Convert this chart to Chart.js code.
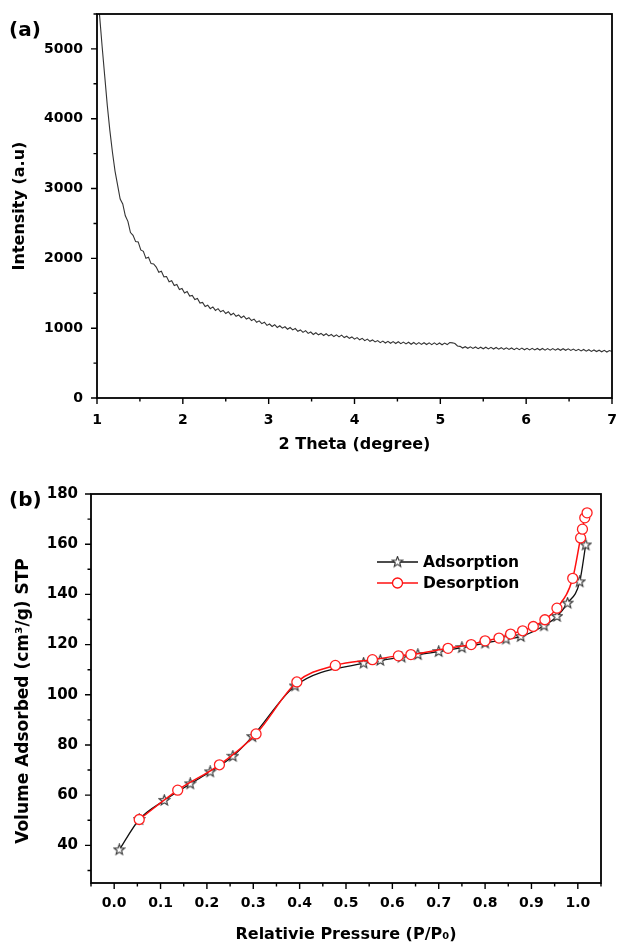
<!DOCTYPE html>
<html>
<head>
<meta charset="utf-8">
<script src="https://cdn.jsdelivr.net/npm/chart.js@4.4.1/dist/chart.umd.min.js"></script>
<style>
html, body { margin: 0; padding: 0; background: #fff; }
#wrap { position: relative; width: 618px; height: 945px; }
#chartA { position: absolute; left: 0; top: 0; }
#chartB { position: absolute; left: 0; top: 470px; }
</style>
</head>
<body>
<div id="wrap">
  <canvas id="chartA" width="618" height="470"></canvas>
  <canvas id="chartB" width="618" height="475"></canvas>
</div>
<script>
// (a) XRD pattern, sampled every 0.03 degree from 1.00 to 7.00
var thetaStart = 1.0;
var thetaStep = 0.03;
var xrdIntensity = [
    6000, 5480, 5030, 4610, 4190, 3830, 3520, 3250, 3050, 2850,
    2780, 2610, 2530, 2370, 2330, 2240, 2235, 2120, 2100, 2000,
    2015, 1925, 1920, 1875, 1800, 1815, 1735, 1740, 1665, 1680,
    1610, 1625, 1555, 1570, 1505, 1525, 1460, 1470, 1410, 1425,
    1360, 1370, 1310, 1330, 1280, 1305, 1255, 1280, 1235, 1255,
    1210, 1235, 1190, 1215, 1170, 1190, 1150, 1175, 1130, 1150,
    1110, 1130, 1085, 1105, 1065, 1085, 1040, 1060, 1025, 1050,
    1010, 1035, 1000, 1020, 985, 1010, 975, 995, 955, 975,
    940, 965, 925, 945, 910, 935, 905, 925, 895, 920,
    890, 910, 880, 905, 875, 900, 865, 885, 855, 875,
    843, 865, 833, 855, 822, 843, 812, 832, 803, 822,
    793, 815, 788, 812, 784, 808, 781, 806, 778, 800,
    775, 798, 770, 795, 768, 793, 767, 792, 766, 790,
    765, 789, 764, 788, 763, 787, 765, 795, 790, 780,
    745, 740, 715, 735, 712, 733, 710, 731, 707, 728,
    705, 727, 703, 725, 701, 723, 699, 721, 697, 719,
    695, 717, 693, 715, 692, 714, 690, 712, 689, 711,
    688, 710, 687, 709, 686, 708, 686, 707, 685, 706,
    684, 706, 683, 705, 681, 701, 678, 698, 675, 695,
    671, 691, 668, 688, 665, 685, 662, 683, 659, 680,
    666
];
var xrdXTicks = [1, 2, 3, 4, 5, 6, 7];
var xrdYTicks = [0, 1000, 2000, 3000, 4000, 5000];

// (b) N2 isotherm
var pressureAds = [0.011, 0.054, 0.108, 0.164, 0.207, 0.256, 0.298, 0.390, 0.538, 0.574, 0.620, 0.655, 0.700, 0.750, 0.800, 0.845, 0.877, 0.927, 0.955, 0.978, 1.004, 1.017];
var volumeAds   = [38.2, 50.3, 57.9, 64.5, 69.3, 75.5, 83.3, 103.5, 112.6, 113.7, 115.0, 116.0, 117.2, 118.8, 120.6, 122.2, 123.2, 127.5, 131.2, 136.5, 145.0, 159.7];
var pressureDes = [0.054, 0.137, 0.227, 0.306, 0.394, 0.477, 0.557, 0.613, 0.640, 0.720, 0.770, 0.800, 0.830, 0.855, 0.881, 0.904, 0.929, 0.955, 0.989, 1.006, 1.010, 1.015, 1.020];
var volumeDes   = [50.3, 62.0, 72.1, 84.4, 105.1, 111.7, 114.0, 115.5, 116.0, 118.5, 120.0, 121.5, 122.6, 124.2, 125.5, 127.2, 129.9, 134.5, 146.4, 162.5, 166.0, 170.5, 172.5];
var isoXTicks = [0.0, 0.1, 0.2, 0.3, 0.4, 0.5, 0.6, 0.7, 0.8, 0.9, 1.0];
var isoYTicks = [40, 60, 80, 100, 120, 140, 160, 180];

var BOLD = '"DejaVu Sans", "Liberation Sans", Arial, sans-serif';

function range(a, b, step) {
    var out = [];
    for (var v = a; v <= b + step / 1000; v += step) out.push(Math.round(v * 1000) / 1000);
    return out;
}

// open five-point star used as point style
function makeStar(size) {
    var c = document.createElement('canvas');
    c.width = size; c.height = size;
    var g = c.getContext('2d');
    var cx = size / 2, cy = size / 2, ro = size / 2 - 1, ri = ro * 0.42;
    g.beginPath();
    for (var i = 0; i < 10; i++) {
        var r = i % 2 === 0 ? ro : ri;
        var a = -Math.PI / 2 + i * Math.PI / 5;
        var px = cx + r * Math.cos(a), py = cy + r * Math.sin(a);
        if (i === 0) g.moveTo(px, py); else g.lineTo(px, py);
    }
    g.closePath();
    g.fillStyle = '#fff';
    g.fill();
    g.lineWidth = 1.1;
    g.strokeStyle = '#333';
    g.stroke();
    return c;
}
var starImg = makeStar(13);

// frame, outward major/minor ticks, panel letter, y title, legend
var framePlugin = {
    id: 'frame',
    afterDraw: function (chart, args, opts) {
        var ctx = chart.ctx, a = chart.chartArea;
        var xs = chart.scales.x, ys = chart.scales.y;
        ctx.save();
        ctx.strokeStyle = '#000';
        ctx.lineWidth = 1.4;
        ctx.beginPath();
        opts.xMajor.forEach(function (v) {
            var p = xs.getPixelForValue(v);
            ctx.moveTo(p, a.bottom); ctx.lineTo(p, a.bottom + 6);
        });
        opts.xMinor.forEach(function (v) {
            var p = xs.getPixelForValue(v);
            ctx.moveTo(p, a.bottom); ctx.lineTo(p, a.bottom + 3.5);
        });
        opts.yMajor.forEach(function (v) {
            var p = ys.getPixelForValue(v);
            ctx.moveTo(a.left, p); ctx.lineTo(a.left - 6, p);
        });
        opts.yMinor.forEach(function (v) {
            var p = ys.getPixelForValue(v);
            ctx.moveTo(a.left, p); ctx.lineTo(a.left - 3.5, p);
        });
        ctx.stroke();
        ctx.lineWidth = 1.8;
        ctx.strokeRect(a.left, a.top, a.right - a.left, a.bottom - a.top);

        ctx.fillStyle = '#000';
        ctx.font = 'bold 20px ' + BOLD;
        ctx.textAlign = 'left';
        ctx.textBaseline = 'middle';
        ctx.fillText(opts.letter, 9, 31);

        if (opts.yTitle) {
            ctx.save();
            ctx.translate(opts.yTitle.x, opts.yTitle.y);
            ctx.rotate(-Math.PI / 2);
            ctx.textAlign = 'center';
            ctx.font = 'bold ' + opts.yTitle.size + 'px ' + BOLD;
            ctx.fillText(opts.yTitle.text, 0, 0);
            ctx.restore();
        }

        if (opts.legend) {
            var lx = 377, lw = 41, tx = 423;
            ctx.font = 'bold 15.5px ' + BOLD;
            opts.legend.forEach(function (it) {
                ctx.strokeStyle = it.color;
                ctx.lineWidth = 1.4;
                ctx.beginPath();
                ctx.moveTo(lx, it.y); ctx.lineTo(lx + lw, it.y);
                ctx.stroke();
                if (it.star) {
                    ctx.drawImage(starImg, lx + lw / 2 - 6.5, it.y - 6.5);
                } else {
                    ctx.beginPath();
                    ctx.arc(lx + lw / 2, it.y, 5, 0, Math.PI * 2);
                    ctx.fillStyle = '#fff';
                    ctx.fill();
                    ctx.lineWidth = 1.3;
                    ctx.stroke();
                }
                ctx.fillStyle = '#000';
                ctx.fillText(it.text, tx, it.y + 1);
            });
        }
        ctx.restore();
    }
};

function axisCommon(tickVals, fmt, pad, size, fixed, horizontal) {
    return {
        type: 'linear',
        grid: { display: false, drawTicks: false },
        border: { display: false },
        afterBuildTicks: function (s) { s.ticks = tickVals.map(function (v) { return { value: v }; }); },
        afterFit: function (s) {
            if (horizontal) s.height = fixed; else s.width = fixed;
            s.paddingLeft = 0; s.paddingRight = 0; s.paddingTop = 0; s.paddingBottom = 0;
        },
        ticks: {
            autoSkip: false,
            padding: pad,
            color: '#000',
            font: { family: BOLD, weight: 'bold', size: size },
            callback: fmt
        }
    };
}

// ---- chart (a)
var xrdPoints = xrdIntensity.map(function (v, i) {
    return { x: thetaStart + i * thetaStep, y: v };
});

var xA = axisCommon(xrdXTicks, function (v) { return String(v); }, 14, 14, 72, true);
xA.min = 1; xA.max = 7;
xA.title = { display: true, text: '2 Theta (degree)', color: '#000', padding: { top: 0, bottom: 16 },
             font: { family: BOLD, weight: 'bold', size: 16 } };

var yA = axisCommon(xrdYTicks, function (v) { return String(v); }, 14, 14, 97, false);
yA.min = 0; yA.max = 5500;
yA.title = { display: true, text: 'Intensity (a.u)', color: '#000', padding: { top: 10, bottom: 0 },
             font: { family: BOLD, weight: 'bold', size: 16 } };

new Chart(document.getElementById('chartA'), {
    type: 'line',
    data: {
        datasets: [{
            data: xrdPoints,
            borderColor: '#333',
            borderWidth: 1.1,
            pointRadius: 0,
            tension: 0
        }]
    },
    options: {
        responsive: false,
        animation: false,
        layout: { padding: { left: 0, right: 6, top: 14, bottom: 0 } },
        scales: { x: xA, y: yA },
        plugins: {
            legend: { display: false },
            tooltip: { enabled: false },
            frame: {
                letter: '(a)',
                xMajor: xrdXTicks, xMinor: range(1.5, 6.5, 1),
                yMajor: xrdYTicks, yMinor: range(500, 5500, 1000)
            }
        }
    },
    plugins: [framePlugin]
});

// ---- chart (b)
function pts(xs, ys) { return xs.map(function (x, i) { return { x: x, y: ys[i] }; }); }

var xB = axisCommon(isoXTicks, function (v) { return v.toFixed(1); }, 12, 14, 62, true);
xB.min = -0.05; xB.max = 1.05;
xB.title = { display: true, text: 'Relativie Pressure (P/P\u2080)', color: '#000', padding: { top: 0, bottom: 1 },
             font: { family: BOLD, weight: 'bold', size: 16 } };

var yB = axisCommon(isoYTicks, function (v) { return String(v); }, 13, 15, 91, false);
yB.min = 25; yB.max = 180;

new Chart(document.getElementById('chartB'), {
    type: 'line',
    data: {
        datasets: [{
            label: 'Desorption',
            data: pts(pressureDes, volumeDes),
            borderColor: '#ff1010',
            borderWidth: 1.5,
            cubicInterpolationMode: 'monotone',
            pointStyle: 'circle',
            pointRadius: 5,
            pointBorderWidth: 1.3,
            pointBorderColor: '#ff2020',
            pointBackgroundColor: '#fff',
            order: 0
        }, {
            label: 'Adsorption',
            data: pts(pressureAds, volumeAds),
            borderColor: '#111',
            borderWidth: 1.3,
            cubicInterpolationMode: 'monotone',
            pointStyle: starImg,
            pointRadius: 6,
            order: 1
        }]
    },
    options: {
        responsive: false,
        animation: false,
        layout: { padding: { left: 0, right: 17, top: 24, bottom: 0 } },
        scales: { x: xB, y: yB },
        plugins: {
            legend: { display: false },
            tooltip: { enabled: false },
            frame: {
                letter: '(b)',
                xMajor: isoXTicks, xMinor: range(-0.05, 1.05, 0.1),
                yMajor: isoYTicks, yMinor: range(30, 170, 20),
                yTitle: { text: 'Volume Adsorbed (cm\u00b3/g) STP', x: 24, y: 231, size: 17 },
                legend: [
                    { text: 'Adsorption', color: '#111', star: true, y: 92 },
                    { text: 'Desorption', color: '#ff1010', star: false, y: 113 }
                ]
            }
        }
    },
    plugins: [framePlugin]
});
</script>
</body>
</html>
